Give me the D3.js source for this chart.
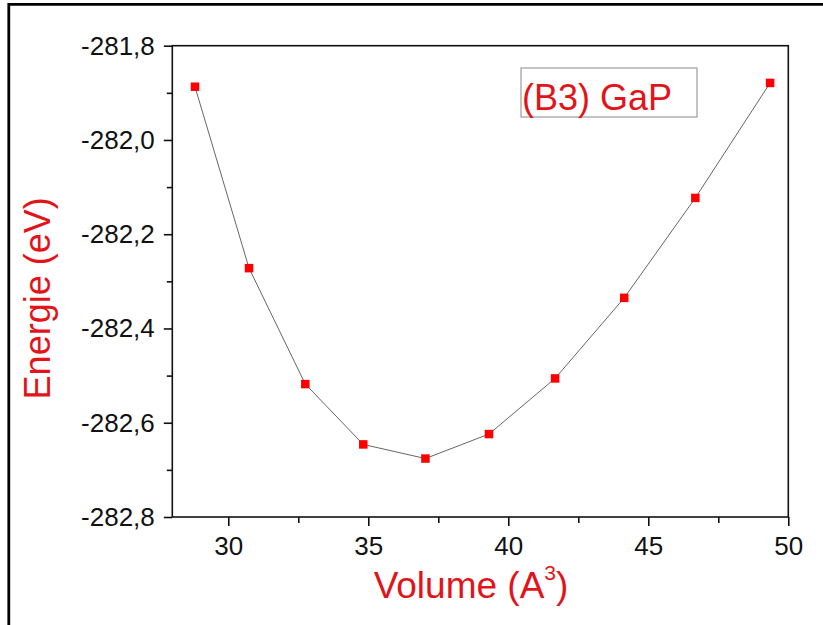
<!DOCTYPE html>
<html><head><meta charset="utf-8">
<script src="https://cdn.jsdelivr.net/npm/d3@7"></script>
<style>body{margin:0;background:#fff}svg{display:block}text{font-family:"Liberation Sans",Arial,sans-serif}</style>
</head><body>
<script>
const volume = [28.81, 30.74, 32.75, 34.82, 37.04, 39.31, 41.67, 44.14, 46.68, 49.35];
const energy = [-281.887, -282.272, -282.518, -282.646, -282.676, -282.624, -282.506, -282.335, -282.123, -281.879];
const xTicks = [30, 35, 40, 45, 50];
const xMinor = [27.5, 32.5, 37.5, 42.5, 47.5];
const yTicks = [-282.8, -282.6, -282.4, -282.2, -282.0, -281.8];
const yMinor = [-282.7, -282.5, -282.3, -282.1, -281.9];
const xTitle = "Volume (A";
const yTitle = "Energie (eV)";
const legendLabel = "(B3) GaP";

const W = 823, H = 625;
const red = "#e31419";
const m = {left: 172.3, right: 788.3, top: 45.7, bottom: 517};
const svg = d3.select("body").append("svg").attr("width", W).attr("height", H);
svg.append("rect").attr("width", W).attr("height", H).attr("fill", "#fff");
// outer frame (cropped on right/bottom)
svg.append("path").attr("d", `M8.8,${H+5}V4.3H${W+5}`).attr("fill", "none").attr("stroke", "#000").attr("stroke-width", 2.8);

const x = d3.scaleLinear().domain([28, 50]).range([m.left, m.right]);
const y = d3.scaleLinear().domain([-282.8, -281.8]).range([m.bottom, m.top]);
const fmt = d => d3.format(".1f")(d).replace("−", "-").replace(".", ",");

// bottom axis
const gx = svg.append("g").attr("transform", `translate(0,${m.bottom})`)
  .call(d3.axisBottom(x).tickValues(xTicks).tickSize(9).tickPadding(11).tickFormat(d3.format("d")));
gx.append("g").call(d3.axisBottom(x).tickValues(xMinor.filter(v => v > 28)).tickSize(6).tickFormat(""));
// left axis
const gy = svg.append("g").attr("transform", `translate(${m.left},0)`)
  .call(d3.axisLeft(y).tickValues(yTicks).tickSize(8.5).tickPadding(9).tickFormat(fmt));
gy.append("g").call(d3.axisLeft(y).tickValues(yMinor).tickSize(5.5).tickFormat(""));
[gx, gy].forEach(g => {
  g.selectAll(".domain").remove();
  g.selectAll("line").attr("stroke", "#111").attr("stroke-width", 1.6);
});
gx.selectAll("text").attr("font-size", 26).attr("fill", "#111").attr("font-family", "Liberation Sans, Arial, sans-serif");
gy.selectAll("text").attr("font-size", 26).attr("fill", "#111").attr("font-family", "Liberation Sans, Arial, sans-serif");

// plot frame
svg.append("rect").attr("x", m.left).attr("y", m.top).attr("width", m.right - m.left).attr("height", m.bottom - m.top)
  .attr("fill", "none").attr("stroke", "#111").attr("stroke-width", 1.6);

// curve
const pts = volume.map((v, i) => [v, energy[i]]);
svg.append("path").datum(pts)
  .attr("d", d3.line().x(d => x(d[0])).y(d => y(d[1])).curve(d3.curveLinear))
  .attr("fill", "none").attr("stroke", "#666").attr("stroke-width", 1);
// markers
const s = 8.5;
svg.append("g").selectAll("rect").data(pts).join("rect")
  .attr("x", d => x(d[0]) - s/2).attr("y", d => y(d[1]) - s/2)
  .attr("width", s).attr("height", s).attr("fill", "#ff0000");

// legend
svg.append("rect").attr("x", 521).attr("y", 68).attr("width", 176).attr("height", 49)
  .attr("fill", "#fff").attr("stroke", "#888").attr("stroke-width", 1);
svg.append("text").attr("x", 522).attr("y", 110).attr("font-size", 36).attr("fill", red).text(legendLabel);

// axis titles
const xt = svg.append("text").attr("x", 471).attr("y", 598)
  .attr("text-anchor", "middle").attr("font-size", 37).attr("fill", red);
xt.append("tspan").text(xTitle);
xt.append("tspan").attr("font-size", 21).attr("dy", -18).text("3");
xt.append("tspan").attr("dy", 18).text(")");
svg.append("text").attr("transform", `translate(50,${(m.top + m.bottom)/2 + 17}) rotate(-90)`)
  .attr("text-anchor", "middle").attr("font-size", 36).attr("fill", red).text(yTitle);
</script>
</body></html>
